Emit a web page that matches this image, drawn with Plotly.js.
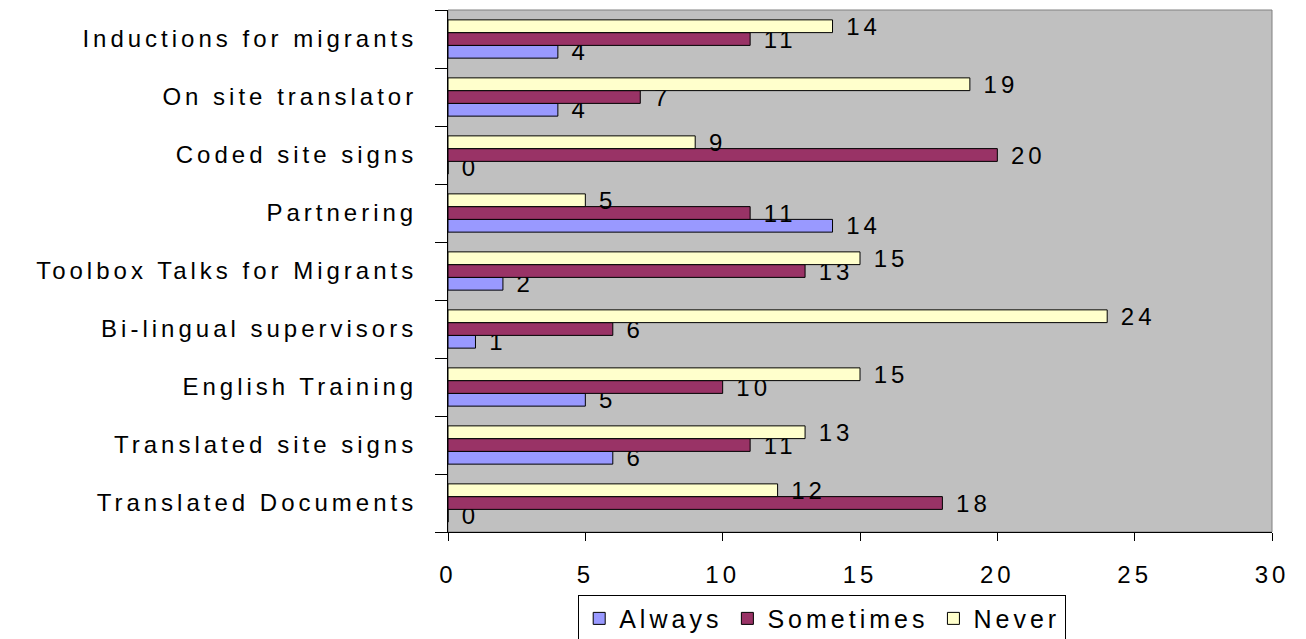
<!DOCTYPE html>
<html>
<head>
<meta charset="utf-8">
<script src="https://cdn.plot.ly/plotly-3.0.1.min.js"></script>
<style>html,body{margin:0;padding:0;background:#fff;}#chart{width:1306px;height:639px;} svg text{letter-spacing:4px;}</style>
</head>
<body>
<div id="chart"></div>
<script>
const categories = ["Translated Documents","Translated site signs","English Training","Bi-lingual supervisors","Toolbox Talks for Migrants","Partnering","Coded site signs","On site translator","Inductions for migrants"];
const always = [0,6,5,1,2,14,0,4,4];
const sometimes = [18,11,10,6,13,11,20,7,11];
const never = [12,13,15,24,15,5,9,19,14];

const font = "Liberation Sans, Arial, sans-serif";
function tr(name, vals, color){
  return {type:"bar", orientation:"h", name:name, y:categories, x:vals,
    marker:{color:color, line:{color:"#000", width:1}},
    texttemplate:"\u00a0%{x}", textposition:"outside", cliponaxis:false, constraintext:"none",
    textfont:{family:font, size:24, color:"#000"}};
}
const data = [tr("Always", always, "#9999FF"), tr("Sometimes", sometimes, "#993366"), tr("Never", never, "#FFFFCC")];
const layout = {
  width:1306, height:639,
  margin:{l:448, r:34, t:10, b:107, autoexpand:false},
  paper_bgcolor:"#fff", plot_bgcolor:"#C0C0C0",
  barmode:"group", bargap:0.34, bargroupgap:0,
  font:{family:font, size:24, color:"#000"},
  xaxis:{range:[0,30], dtick:5, showgrid:false, zeroline:false, showline:true, linecolor:"#000", linewidth:1,
    ticks:"outside", ticklen:8, tickcolor:"#000", ticklabelstandoff:13, tickfont:{family:font, size:24}},
  yaxis:{type:"category", showgrid:false, zeroline:false, showline:true, linecolor:"#000", linewidth:1,
    ticks:"outside", tickson:"boundaries", ticklen:12, tickcolor:"#000", ticklabelstandoff:25, tickfont:{family:font, size:24}},
  shapes:[{type:"rect", xref:"paper", yref:"paper", x0:0, x1:1, y0:0, y1:1, line:{color:"#808080", width:1}, layer:"below"}],
  legend:{orientation:"h", x:0.158, xanchor:"left", y:-0.12, yanchor:"top", bordercolor:"#000", borderwidth:1, bgcolor:"#fff",
    font:{family:font, size:25}, traceorder:"normal", itemwidth:30, tracegroupgap:0}
};
Plotly.newPlot("chart", data, layout, {displayModeBar:false});
</script>
</body>
</html>
